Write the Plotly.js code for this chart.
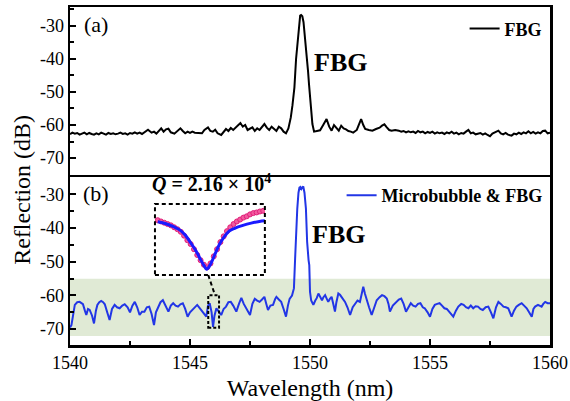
<!DOCTYPE html>
<html>
<head>
<meta charset="utf-8">
<script src="https://cdn.plot.ly/plotly-3.0.1.min.js"></script>
<style>html,body{margin:0;padding:0;background:#fff}#chart{width:570px;height:401px}</style>
</head>
<body>
<div id="chart"></div>
<script>
// ---- Panel (a): FBG only ----
const fbgWl = [1540.0,1540.1,1540.2,1540.3,1540.4,1540.5,1540.6,1540.7,1540.8,1540.9,1541.0,1541.1,1541.2,1541.3,1541.4,1541.5,1541.6,1541.7,1541.8,1541.9,1542.0,1542.1,1542.2,1542.3,1542.4,1542.5,1542.6,1542.7,1542.8,1542.9,1543.0,1543.1,1543.25,1543.4,1543.5,1543.6,1543.7,1543.8,1543.9,1544.0,1544.1,1544.2,1544.35,1544.5,1544.6,1544.7,1544.8,1544.9,1545.0,1545.1,1545.2,1545.35,1545.5,1545.6,1545.75,1545.85,1545.95,1546.05,1546.15,1546.3,1546.4,1546.5,1546.6,1546.7,1546.8,1546.9,1547.0,1547.1,1547.2,1547.3,1547.4,1547.5,1547.6,1547.7,1547.8,1547.9,1548.0,1548.1,1548.2,1548.3,1548.4,1548.5,1548.6,1548.7,1548.8,1548.9,1549.0,1549.1,1549.2,1549.27,1549.35,1549.42,1549.49,1549.54,1549.59,1549.63,1549.68,1549.73,1549.8,1549.87,1549.92,1549.96,1550.02,1550.1,1550.17,1550.3,1550.42,1550.55,1550.69,1550.8,1550.9,1551.0,1551.1,1551.2,1551.3,1551.4,1551.5,1551.6,1551.7,1551.8,1551.95,1552.05,1552.13,1552.22,1552.3,1552.45,1552.6,1552.75,1552.9,1553.0,1553.1,1553.2,1553.3,1553.4,1553.55,1553.7,1553.8,1553.9,1554.0,1554.1,1554.2,1554.3,1554.4,1554.5,1554.6,1554.7,1554.8,1554.9,1555.0,1555.1,1555.2,1555.3,1555.4,1555.5,1555.6,1555.7,1555.8,1555.9,1556.0,1556.1,1556.2,1556.3,1556.4,1556.5,1556.6,1556.7,1556.8,1556.9,1557.0,1557.1,1557.2,1557.3,1557.4,1557.5,1557.6,1557.7,1557.85,1557.95,1558.05,1558.15,1558.25,1558.4,1558.5,1558.6,1558.7,1558.8,1558.9,1559.0,1559.1,1559.2,1559.3,1559.4,1559.5,1559.6,1559.7,1559.8,1559.9,1560.0];
const fbgDb = [-62.8,-62.3,-62.6,-62.4,-62.9,-62.5,-62.3,-62.8,-62.4,-62.7,-62.9,-62.5,-62.8,-62.3,-62.6,-62.9,-62.4,-62.7,-62.5,-62.8,-62.6,-62.3,-62.7,-62.5,-62.9,-62.4,-62.6,-62.2,-62.6,-62.3,-62.7,-62.2,-61.4,-62.3,-62.0,-62.6,-61.7,-61.0,-62.0,-61.3,-61.1,-62.2,-62.6,-61.6,-61.0,-61.8,-62.5,-62.0,-62.4,-62.0,-62.3,-62.4,-62.5,-61.5,-60.7,-61.8,-62.0,-61.4,-62.5,-63.0,-62.0,-61.2,-61.8,-60.9,-61.5,-60.8,-60.2,-59.4,-60.5,-60.0,-61.5,-61.0,-60.7,-61.8,-61.0,-61.5,-60.5,-59.7,-60.8,-61.5,-60.5,-61.2,-61.8,-60.5,-61.0,-62.0,-62.5,-61.0,-57.7,-54.0,-48.7,-40.0,-33.8,-29.0,-27.0,-26.8,-27.2,-29.0,-33.8,-40.0,-43.9,-47.8,-53.0,-59.7,-62.0,-61.8,-61.6,-60.0,-58.2,-60.5,-61.7,-60.0,-61.0,-61.7,-60.2,-61.0,-61.3,-61.8,-62.0,-62.3,-61.5,-59.5,-58.2,-60.0,-61.2,-61.5,-61.7,-61.2,-60.8,-60.2,-59.8,-60.7,-61.5,-61.7,-61.5,-61.7,-62.0,-61.8,-62.2,-61.9,-62.2,-62.0,-62.4,-61.8,-62.2,-62.0,-62.5,-62.1,-62.4,-62.0,-62.6,-62.2,-62.5,-62.3,-62.7,-62.2,-62.5,-62.0,-62.6,-62.3,-62.8,-62.4,-62.6,-62.0,-61.5,-62.5,-62.3,-62.8,-62.7,-62.4,-62.9,-62.5,-63.0,-63.4,-62.6,-62.3,-61.7,-62.5,-62.8,-62.4,-62.9,-63.2,-62.6,-62.8,-62.3,-62.7,-62.2,-62.5,-61.9,-62.5,-62.1,-62.6,-62.2,-62.5,-61.8,-61.7,-62.5,-62.3];

// ---- Panel (b): Microbubble & FBG ----
const mbWl = [1540.0,1540.06,1540.2,1540.3,1540.4,1540.54,1540.62,1540.68,1540.75,1540.82,1540.92,1541.0,1541.08,1541.14,1541.22,1541.3,1541.38,1541.45,1541.55,1541.65,1541.75,1541.86,1541.96,1542.07,1542.18,1542.28,1542.4,1542.5,1542.6,1542.7,1542.8,1542.9,1543.0,1543.1,1543.2,1543.3,1543.4,1543.5,1543.58,1543.67,1543.77,1543.87,1543.98,1544.1,1544.2,1544.3,1544.4,1544.5,1544.6,1544.7,1544.8,1544.9,1545.0,1545.1,1545.2,1545.3,1545.38,1545.47,1545.58,1545.68,1545.75,1545.82,1545.9,1545.96,1546.02,1546.1,1546.2,1546.3,1546.4,1546.5,1546.6,1546.7,1546.8,1546.93,1547.04,1547.14,1547.24,1547.35,1547.5,1547.6,1547.7,1547.8,1547.9,1548.0,1548.1,1548.18,1548.25,1548.35,1548.46,1548.55,1548.6,1548.7,1548.8,1548.9,1549.0,1549.08,1549.15,1549.25,1549.33,1549.38,1549.43,1549.47,1549.52,1549.56,1549.6,1549.64,1549.68,1549.72,1549.77,1549.83,1549.88,1549.91,1549.94,1549.97,1550.0,1550.05,1550.14,1550.22,1550.28,1550.35,1550.42,1550.5,1550.56,1550.63,1550.7,1550.76,1550.83,1550.9,1550.97,1551.04,1551.1,1551.18,1551.25,1551.32,1551.39,1551.46,1551.56,1551.67,1551.78,1551.88,1551.98,1552.08,1552.15,1552.22,1552.29,1552.36,1552.46,1552.57,1552.67,1552.78,1552.9,1553.0,1553.1,1553.2,1553.27,1553.33,1553.45,1553.6,1553.7,1553.8,1553.9,1554.0,1554.1,1554.2,1554.3,1554.4,1554.5,1554.6,1554.7,1554.78,1554.9,1555.0,1555.1,1555.2,1555.3,1555.4,1555.5,1555.6,1555.7,1555.8,1555.88,1555.97,1556.08,1556.18,1556.3,1556.4,1556.5,1556.6,1556.7,1556.8,1556.9,1557.0,1557.1,1557.2,1557.32,1557.43,1557.54,1557.64,1557.75,1557.85,1557.95,1558.06,1558.16,1558.26,1558.33,1558.4,1558.5,1558.6,1558.7,1558.82,1558.92,1559.03,1559.13,1559.24,1559.31,1559.38,1559.5,1559.58,1559.65,1559.72,1559.8,1559.9,1560.0];
const mbDb = [-69.5,-68.8,-62.8,-62.0,-61.9,-62.6,-64.5,-65.8,-64.0,-64.3,-66.0,-68.3,-64.5,-62.8,-62.0,-61.6,-62.0,-62.6,-65.0,-67.3,-64.0,-62.8,-63.5,-63.8,-63.0,-62.6,-63.5,-65.0,-63.0,-61.9,-63.5,-65.8,-64.8,-64.8,-63.5,-63.3,-65.5,-68.8,-65.0,-63.3,-62.0,-61.4,-63.0,-64.8,-63.0,-62.3,-63.0,-63.3,-62.6,-62.3,-64.0,-66.3,-65.0,-64.3,-63.3,-62.8,-63.5,-64.3,-65.5,-66.3,-63.0,-62.3,-65.0,-69.3,-66.0,-63.8,-64.8,-65.8,-64.0,-63.3,-62.0,-61.9,-63.0,-64.8,-62.5,-60.7,-62.5,-63.8,-65.8,-62.5,-61.0,-61.5,-61.9,-61.2,-60.4,-62.5,-64.3,-63.0,-62.8,-61.0,-60.4,-61.2,-61.9,-64.0,-66.3,-63.0,-61.0,-60.0,-57.9,-49.0,-40.0,-34.2,-29.5,-28.0,-27.8,-28.4,-28.0,-27.6,-29.5,-34.2,-44.0,-48.5,-49.5,-51.0,-58.9,-61.5,-62.8,-61.5,-60.8,-59.4,-60.5,-61.4,-60.5,-59.9,-61.0,-61.9,-61.0,-60.4,-62.5,-64.8,-62.0,-59.4,-59.8,-60.4,-61.0,-61.9,-63.5,-65.8,-63.5,-62.3,-61.5,-61.9,-59.5,-57.4,-59.5,-61.4,-63.5,-65.8,-63.5,-61.4,-60.5,-59.9,-60.2,-60.9,-62.5,-64.8,-63.0,-61.9,-61.2,-60.9,-62.5,-64.8,-63.5,-62.3,-63.0,-63.3,-62.5,-62.3,-63.5,-63.8,-65.0,-66.3,-64.0,-62.8,-62.5,-62.3,-63.0,-63.8,-64.0,-64.8,-65.5,-66.3,-64.5,-63.3,-62.5,-62.8,-63.5,-63.8,-63.0,-63.8,-63.2,-63.3,-64.0,-64.3,-63.5,-63.3,-65.0,-66.8,-63.5,-61.9,-62.5,-63.3,-63.5,-63.8,-65.0,-66.3,-64.5,-63.3,-62.8,-62.3,-63.0,-63.8,-65.0,-66.3,-64.0,-63.3,-62.8,-63.0,-63.3,-62.5,-61.9,-62.3,-62.3];

// ---- Inset: resonance dip (offset in pm, relative dB) ----
const insetMeasX = [-90,-84,-78,-72,-66,-60,-54,-48,-42,-36,-30,-24,-18,-12,-6,0,6,12,18,24,30,36,42,48,54,60,66,72,78,84,90,96,102];
const insetMeasY = [-1.5,-1.7,-1.9,-2.1,-2.3,-2.6,-2.9,-3.3,-3.9,-4.6,-5.2,-6.0,-6.9,-7.7,-8.4,-8.8,-8.2,-7.1,-6.0,-4.9,-4.0,-3.2,-2.6,-2.1,-1.7,-1.4,-1.1,-0.9,-0.6,-0.4,-0.3,-0.15,-0.05];
const insetFitX = [-90,-75,-60,-50,-40,-30,-20,-12,-6,-1,5,10,15,22,30,40,50,65,80,95,105];
const insetFitY = [-1.74,-2.05,-2.55,-3.0,-3.8,-5.0,-6.3,-7.6,-8.5,-9.1,-8.5,-7.6,-6.6,-5.3,-4.2,-3.2,-2.75,-2.3,-1.95,-1.7,-1.59];

// ---- Ticks / labels ----
const xTickVals = [1540,1545,1550,1555,1560];
const xTickText = ['1540','1545','1550','1555','1560'];
const yTickVals = [-30,-40,-50,-60,-70];
const yTickText = ['-30','-40','-50','-60','-70'];
const seriesNames = ['FBG','Microbubble & FBG'];

const FONT = 'Liberation Serif, Times New Roman, serif';

const traces = [
  {x: fbgWl, y: fbgDb, xaxis:'x2', yaxis:'y2', type:'scatter', mode:'lines', name: seriesNames[0],
   line:{color:'#000000', width:2}, legend:'legend'},
  {x: mbWl, y: mbDb, xaxis:'x', yaxis:'y', type:'scatter', mode:'lines', name: seriesNames[1],
   line:{color:'#2236e6', width:2}, legend:'legend2'},
  {x: insetMeasX, y: insetMeasY, xaxis:'x3', yaxis:'y3', type:'scatter', mode:'markers', showlegend:false,
   marker:{color:'#f25a9e', size:5, line:{color:'#e0207a', width:1}}},
  {x: insetFitX, y: insetFitY, xaxis:'x3', yaxis:'y3', type:'scatter', mode:'lines', showlegend:false,
   line:{color:'#1a1aff', width:3, shape:'spline'}}
];

const yCommon = {
  tickmode:'array', tickvals:yTickVals, ticktext:yTickText,
  ticks:'inside', ticklen:6, tickwidth:2, tickcolor:'#000',
  minor:{tickmode:'linear', tick0:-75, dtick:5, ticks:'inside', ticklen:4, tickwidth:2, tickcolor:'#000', showgrid:false},
  showline:true, mirror:true, linewidth:2.5, linecolor:'#000',
  showgrid:false, zeroline:false, tickfont:{family:FONT, size:18, color:'#000'}
};

const layout = {
  width:570, height:401,
  margin:{l:70, r:20, t:7, b:56},
  paper_bgcolor:'#ffffff', plot_bgcolor:'rgba(0,0,0,0)',
  font:{family:FONT, size:18, color:'#000'},
  showlegend:true,
  xaxis:{domain:[0,1], anchor:'y', range:[1540,1560], tickmode:'array', tickvals:xTickVals, ticktext:xTickText,
    ticks:'inside', ticklen:6, tickwidth:2, tickcolor:'#000',
    minor:{tickmode:'linear', tick0:1540, dtick:2.5, ticks:'inside', ticklen:4, tickwidth:2, tickcolor:'#000', showgrid:false},
    showline:true, mirror:true, linewidth:2.5, linecolor:'#000', showgrid:false, zeroline:false,
    tickfont:{family:FONT, size:18, color:'#000'},
    title:{text:'Wavelength (nm)', font:{family:FONT, size:24, color:'#000'}, standoff:8}},
  xaxis2:{domain:[0,1], anchor:'y2', matches:'x', range:[1540,1560], showticklabels:false, ticks:'',
    showline:true, mirror:true, linewidth:2.5, linecolor:'#000', showgrid:false, zeroline:false},
  yaxis:Object.assign({domain:[0,0.4963], anchor:'x', range:[-74.7,-24.9]}, yCommon),
  yaxis2:Object.assign({domain:[0.5037,1], anchor:'x2', range:[-75.0,-24.4]}, yCommon),
  xaxis3:{domain:[0.177,0.406], anchor:'y3', range:[-95,105], visible:false},
  yaxis3:{domain:[0.207,0.417], anchor:'x3', range:[-10,1], visible:false},
  legend:{x:0.995, y:0.99, xanchor:'right', yanchor:'top', bgcolor:'rgba(0,0,0,0)',
    font:{family:FONT, size:18, color:'#000', weight:'bold'}, itemwidth:30, tracegroupgap:0},
  legend2:{x:0.995, y:0.497, xanchor:'right', yanchor:'top', bgcolor:'rgba(0,0,0,0)',
    font:{family:FONT, size:18, color:'#000', weight:'bold'}, itemwidth:30},
  shapes:[
    {type:'rect', xref:'x', yref:'y', x0:1540, x1:1560, y0:-72, y1:-55, fillcolor:'#e0ead5', line:{width:0}, layer:'below'},
    {type:'rect', xref:'x3 domain', yref:'y3 domain', x0:0, x1:1, y0:0, y1:1, line:{color:'#000', width:2, dash:'4px,3px'}},
    {type:'rect', xref:'x', yref:'y', x0:1545.76, x1:1546.21, y0:-69.6, y1:-59.9, line:{color:'#000', width:2, dash:'3px,2px'}},
    {type:'line', xref:'paper', yref:'paper', x0:0.288, y0:0.207, x1:0.302, y1:0.148, line:{color:'#000', width:2, dash:'4px,3px'}}
  ],
  annotations:[
    {text:'Reflection (dB)', xref:'paper', yref:'paper', x:-0.1, y:0.459, textangle:-90, showarrow:false,
     xanchor:'center', yanchor:'middle', font:{family:FONT, size:24, color:'#000'}},
    {text:'(a)', xref:'paper', yref:'paper', x:0.054, y:0.947, showarrow:false, xanchor:'center', yanchor:'middle', font:{family:FONT, size:22}},
    {text:'(b)', xref:'paper', yref:'paper', x:0.054, y:0.447, showarrow:false, xanchor:'center', yanchor:'middle', font:{family:FONT, size:22}},
    {text:'<b>FBG</b>', xref:'x2', yref:'y2', x:1551.25, y:-41.2, showarrow:false, font:{family:FONT, size:26}},
    {text:'<b>FBG</b>', xref:'x', yref:'y', x:1551.2, y:-41.8, showarrow:false, font:{family:FONT, size:26}},
    {text:'<b><i>Q</i> = 2.16 × 10<sup>4</sup></b>', xref:'paper', yref:'paper', x:0.294, y:0.479, showarrow:false,
     xanchor:'center', yanchor:'middle', font:{family:FONT, size:20}}
  ]
};

Plotly.newPlot('chart', traces, layout, {displayModeBar:false, staticPlot:true});
</script>
</body>
</html>
